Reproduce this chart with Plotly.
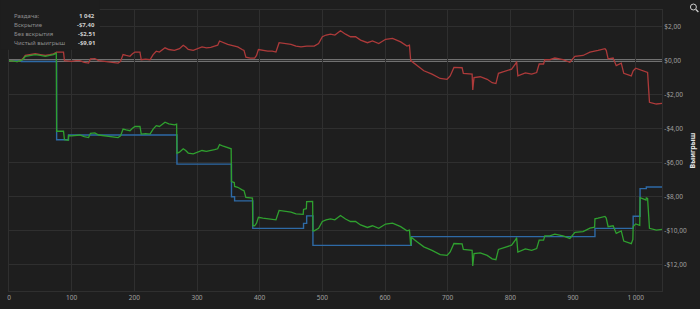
import plotly.graph_objects as go

# ---- data (hand number, $ won) ----
red_hands = [0, 8, 13, 18, 22, 26, 35, 42, 50, 58, 65, 71, 76, 87, 88.5, 100, 107, 113, 120, 127,
             130, 137, 143, 150, 158, 166, 174, 178, 182, 187, 193, 197, 201, 209, 211, 218, 225, 230,
             235, 240, 249, 255, 264, 272, 278, 282, 286, 294, 302, 308, 315, 322, 328, 333, 336, 342,
             349, 357, 365, 372, 375, 378, 385, 392, 395, 398, 405, 413, 420, 426, 431, 440, 450, 458,
             466, 475, 487, 494, 500, 506, 513, 520, 529, 537, 545, 553, 561, 572, 580, 590, 601, 612,
             625, 635, 639, 641, 651, 662, 675, 688, 699, 704, 710, 714, 723, 725, 736, 739, 740, 742,
             752, 763, 771, 777, 781, 794, 802, 809, 810, 812, 824, 834, 842, 846, 853, 855, 863, 871,
             884, 895, 903, 916, 927, 940, 951, 953, 956, 964, 969, 977, 981, 993, 996, 1000, 1012,
             1019, 1022, 1033, 1042]
red_values = [0.0, -0.02, -0.06, 0.0, 0.1, 0.3, 0.35, 0.4, 0.35, 0.3, 0.35, 0.4, 0.5, 0.5, 0.0, -0.05,
              0.0, 0.0, -0.1, -0.15, 0.1, 0.12, 0.0, -0.03, -0.05, -0.1, -0.15, -0.05, 0.35, 0.3, 0.25,
              0.4, 0.5, 0.5, 0.05, 0.08, 0.05, 0.35, 0.55, 0.5, 0.75, 0.65, 0.6, 0.7, 0.9, 0.8, 0.65,
              0.6, 0.7, 0.8, 0.75, 0.78, 0.85, 0.9, 1.15, 1.05, 0.95, 0.88, 0.8, 0.65, 0.6, 0.2, 0.15,
              0.15, 0.3, 0.65, 0.6, 0.55, 0.55, 0.5, 1.05, 1.0, 0.95, 0.85, 0.8, 0.85, 0.85, 1.0, 1.4,
              1.5, 1.55, 1.5, 1.75, 1.55, 1.4, 1.4, 1.2, 1.05, 1.15, 1.0, 1.25, 1.3, 1.1, 0.85, 0.9,
              0.0, -0.3, -0.6, -0.8, -1.05, -1.1, -0.9, -0.4, -0.4, -0.42, -0.75, -0.78, -0.8, -1.72,
              -1.0, -0.95, -1.1, -1.3, -1.35, -0.75, -0.6, -0.5, -0.15, -0.05, -0.9, -0.72, -0.8, -0.7,
              -0.2, -0.2, 0.05, 0.05, 0.15, 0.05, -0.1, 0.25, 0.3, 0.5, 0.6, 0.7, 0.6, 0.1, 0.15, -0.3,
              -0.15, -0.75, -0.9, -0.6, -0.45, -0.6, -0.7, -2.45, -2.55, -2.51]

blue_hands = [0, 20, 76, 95, 268, 355, 360, 389, 470, 475, 485, 642, 935, 996, 1007, 1017, 1042]
blue_values = [0.0, -0.05, -4.65, -4.37, -6.08, -8.0, -8.24, -9.85, -9.56, -9.12, -10.85, -10.34,
               -9.85, -9.14, -7.52, -7.42, -7.40]

green_hands = [0, 8, 13, 18, 22, 26, 35, 42, 50, 58, 65, 71, 75.5, 76, 87, 88.5, 94.5, 95, 100, 107,
               113, 120, 127, 130, 137, 143, 150, 158, 166, 174, 178, 182, 187, 193, 197, 201, 209,
               211, 218, 225, 230, 235, 240, 249, 255, 264, 267.5, 268, 272, 278, 282, 286, 294, 302,
               308, 315, 322, 328, 333, 336, 342, 349, 354.5, 355, 357, 359.5, 360, 365, 372, 375, 378,
               385, 388.5, 389, 392, 395, 398, 405, 413, 420, 426, 431, 440, 450, 458, 466, 469.5, 470,
               474.5, 475, 484.5, 485, 487, 494, 500, 506, 513, 520, 529, 537, 545, 553, 561, 572, 580,
               590, 601, 612, 625, 635, 639, 641, 642, 651, 662, 675, 688, 699, 704, 710, 714, 723,
               725, 736, 739, 740, 742, 752, 763, 771, 777, 781, 794, 802, 809, 810, 812, 824, 834,
               842, 846, 853, 855, 863, 871, 884, 895, 903, 916, 927, 934.5, 935, 940, 951, 953, 956,
               964, 969, 977, 981, 993, 995.5, 996, 1000, 1006.5, 1007, 1012, 1016.5, 1017, 1019, 1022,
               1033, 1042]
green_values = [0.0, -0.02, -0.06, 0.0, 0.05, 0.25, 0.3, 0.35, 0.3, 0.25, 0.3, 0.35, 0.44, -4.15,
                -4.15, -4.65, -4.68, -4.40, -4.42, -4.37, -4.37, -4.47, -4.52, -4.27, -4.25, -4.37,
                -4.40, -4.42, -4.47, -4.52, -4.42, -4.02, -4.07, -4.12, -3.97, -3.87, -3.87, -4.32,
                -4.29, -4.32, -4.02, -3.82, -3.87, -3.62, -3.72, -3.77, -3.73, -5.44, -5.38, -5.18,
                -5.28, -5.43, -5.48, -5.38, -5.28, -5.33, -5.30, -5.23, -5.18, -4.93, -5.03, -5.13,
                -5.18, -7.10, -7.12, -7.16, -7.39, -7.44, -7.59, -7.64, -8.04, -8.09, -8.08, -9.69,
                -9.70, -9.55, -9.20, -9.25, -9.30, -9.30, -9.35, -8.80, -8.85, -8.90, -9.00, -9.05,
                -9.03, -8.74, -8.70, -8.28, -8.27, -10.00, -10.00, -9.85, -9.45, -9.35, -9.30, -9.35,
                -9.10, -9.30, -9.45, -9.45, -9.65, -9.80, -9.70, -9.85, -9.60, -9.55, -9.75, -10.00,
                -9.95, -10.85, -10.37, -10.64, -10.94, -11.14, -11.39, -11.44, -11.24, -10.74, -10.74,
                -10.76, -11.09, -11.12, -11.14, -12.06, -11.34, -11.29, -11.44, -11.64, -11.69,
                -11.09, -10.94, -10.84, -10.49, -10.39, -11.24, -11.06, -11.14, -11.04, -10.54,
                -10.54, -10.29, -10.29, -10.19, -10.29, -10.44, -10.09, -10.04, -9.84, -9.78, -9.29,
                -9.25, -9.15, -9.25, -9.75, -9.70, -10.15, -10.00, -10.60, -10.75, -10.50, -9.74,
                -9.59, -9.67, -8.05, -8.12, -8.19, -8.07, -8.10, -9.85, -9.95, -9.91]

x_tick_vals = [0, 100, 200, 300, 400, 500, 600, 700, 800, 900, 1000]
x_tick_text = ["0", "100", "200", "300", "400", "500", "600", "700", "800", "900", "1 000"]
y_tick_vals = [2, 0, -2, -4, -6, -8, -10, -12]
y_tick_text = ["$2,00", "$0,00", "-$2,00", "-$4,00", "-$6,00", "-$8,00", "-$10,00", "-$12,00"]

summary_labels = ["Раздача:", "Вскрытие", "Без вскрытия", "Чистый выигрыш"]
summary_values = ["1 042", "-$7,40", "-$2,51", "-$9,91"]
axis_title = "Выигрыш"

# ---- style ----
BG = "#1e1e1e"
GRID = "#2f2f2f"
FONT = "Noto Sans"
W, H = 700, 309
L, R, T, B = 7, 38, 10, 16
PW, PH = W - L - R, H - T - B


def px(x):
    return (x - L) / PW


def py(y):
    return (H - B - y) / PH


fig = go.Figure()
fig.add_trace(go.Scatter(x=blue_hands, y=blue_values, mode="lines", line_shape="hv",
                         line=dict(color="#2e6aa6", width=1.4), hoverinfo="skip"))
fig.add_trace(go.Scatter(x=red_hands, y=red_values, mode="lines",
                         line=dict(color="#ad3a3a", width=1.3), hoverinfo="skip"))
fig.add_trace(go.Scatter(x=green_hands, y=green_values, mode="lines",
                         line=dict(color="#2fa02f", width=1.3), hoverinfo="skip"))

shapes = [
    dict(type="line", xref="paper", yref="y", x0=0, x1=1, y0=0, y1=0,
         line=dict(color="#c4c4c4", width=2), layer="between"),
    dict(type="rect", xref="paper", yref="paper", x0=px(-2), x1=px(98), y0=py(50), y1=py(-2),
         fillcolor=BG, line=dict(width=0), layer="above"),
    dict(type="circle", xref="paper", yref="paper", x0=px(690.5), x1=px(696.5), y0=py(10), y1=py(4),
         line=dict(color="#cfcfcf", width=1)),
    dict(type="line", xref="paper", yref="paper", x0=px(696), x1=px(698.5), y0=py(9.5), y1=py(12),
         line=dict(color="#cfcfcf", width=1.3)),
]

annotations = []
row_y = [16, 25.3, 34.3, 43.3]
for lab, val, yy in zip(summary_labels, summary_values, row_y):
    annotations.append(dict(xref="paper", yref="paper", x=px(10), y=py(yy), text=lab,
                            showarrow=False, xanchor="left", yanchor="middle",
                            font=dict(family=FONT, size=6, color="#8e8e8e")))
    annotations.append(dict(xref="paper", yref="paper", x=px(95), y=py(yy), text="<b>" + val + "</b>",
                            showarrow=False, xanchor="right", yanchor="middle",
                            font=dict(family=FONT, size=6, color="#d0d0d0")))
annotations.append(dict(xref="paper", yref="paper", x=px(693), y=0.5, text="<b>" + axis_title + "</b>",
                        showarrow=False, textangle=-90, xanchor="center", yanchor="middle",
                        font=dict(family=FONT, size=7, color="#e6e6e6")))

fig.update_layout(
    width=W, height=H,
    margin=dict(l=L, r=R, t=T, b=B),
    paper_bgcolor=BG, plot_bgcolor=BG,
    showlegend=False,
    shapes=shapes,
    annotations=annotations,
    xaxis=dict(range=[0, 1042], tickvals=x_tick_vals, ticktext=x_tick_text,
               showgrid=True, gridcolor=GRID, gridwidth=1, zeroline=False,
               showline=True, mirror=True, linecolor=GRID, linewidth=1, ticks="",
               tickfont=dict(family=FONT, size=6.5, color="#a0a0a0"), fixedrange=True),
    yaxis=dict(range=[-13.53, 2.97], side="right", tickvals=y_tick_vals, ticktext=y_tick_text,
               showgrid=True, gridcolor=GRID, gridwidth=1, zeroline=False,
               showline=True, mirror=True, linecolor=GRID, linewidth=1, ticks="",
               tickfont=dict(family=FONT, size=6.5, color="#a0a0a0"), fixedrange=True),
)

fig.write_html("out.html", config={"displayModeBar": False})
